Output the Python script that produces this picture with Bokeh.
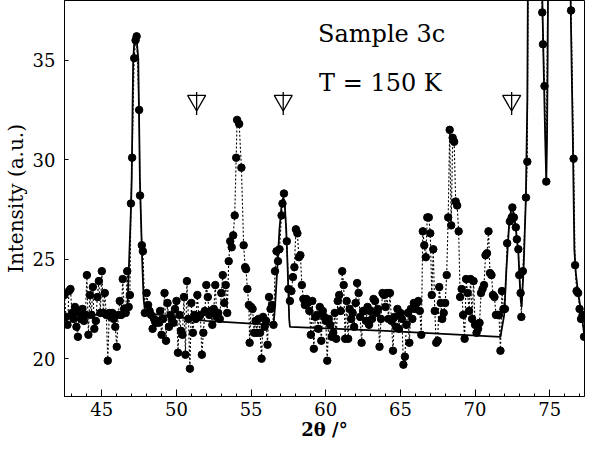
from bokeh.plotting import figure
from bokeh.models import Range1d, FixedTicker, Title
from bokeh.core.properties import value
from bokeh.embed import file_html
from bokeh.resources import INLINE
import math

# ---- measured points (2theta in degrees, intensity in a.u.) ----
two_theta = [
    42.5, 42.6, 42.7, 42.8, 42.9,
    43.0, 43.1, 43.2, 43.3, 43.4, 43.5, 43.6, 43.7, 43.8, 43.9,
    44.0, 44.1, 44.2, 44.3, 44.4, 44.5, 44.6, 44.7, 44.8, 44.9,
    45.0, 45.1, 45.2, 45.3, 45.4, 45.5, 45.6, 45.7, 45.8, 45.9,
    46.0, 46.1, 46.2, 46.3, 46.4, 46.5, 46.6, 46.7, 46.8, 46.88, 46.95,
    47.03, 47.17, 47.26, 47.33, 47.5, 47.56, 47.68, 47.75, 47.88,
    48.0, 48.1, 48.2, 48.3, 48.4, 48.5, 48.6, 48.7, 48.8, 48.9,
    49.0, 49.1, 49.2, 49.3, 49.4, 49.5, 49.6, 49.7, 49.8, 49.9,
    50.0, 50.1, 50.2, 50.3, 50.4, 50.5, 50.6, 50.7, 50.8, 50.9,
    51.0, 51.1, 51.2, 51.3, 51.4, 51.5, 51.6, 51.7, 51.8, 51.9,
    52.0, 52.1, 52.2, 52.3, 52.4, 52.5, 52.6, 52.7, 52.8, 52.9,
    53.0, 53.1, 53.2, 53.3, 53.4, 53.5, 53.6, 53.7, 53.8, 53.9,
    54.0, 54.06, 54.2, 54.35, 54.5, 54.6, 54.66, 54.75, 54.85, 54.9,
    55.0, 55.1, 55.2, 55.3, 55.4, 55.5, 55.6, 55.7, 55.8, 55.9,
    56.0, 56.1, 56.2, 56.3, 56.4, 56.5, 56.6, 56.7, 56.8, 56.9,
    57.04, 57.1, 57.2, 57.39, 57.5, 57.6, 57.7, 57.8, 57.9,
    58.0, 58.1, 58.2, 58.3, 58.4, 58.5, 58.6, 58.7, 58.8, 58.9,
    59.0, 59.1, 59.2, 59.3, 59.4, 59.5, 59.6, 59.7, 59.8, 59.9,
    60.0, 60.1, 60.2, 60.3, 60.4, 60.5, 60.6, 60.7, 60.8, 60.9,
    61.0, 61.1, 61.2, 61.3, 61.4, 61.5, 61.6, 61.7, 61.8, 61.9,
    62.0, 62.1, 62.2, 62.3, 62.4, 62.5, 62.6, 62.7, 62.8, 62.9,
    63.0, 63.1, 63.2, 63.3, 63.4, 63.5, 63.6, 63.7, 63.8, 63.9,
    64.0, 64.1, 64.2, 64.3, 64.4, 64.5, 64.6, 64.7, 64.8, 64.9,
    65.0, 65.1, 65.2, 65.3, 65.4, 65.5, 65.6, 65.7, 65.8, 65.9,
    66.0, 66.1, 66.2, 66.3, 66.4, 66.5, 66.6, 66.7, 66.8, 66.9,
    67.0, 67.1, 67.2, 67.3, 67.4, 67.5, 67.6, 67.7, 67.8, 67.9,
    68.0, 68.1, 68.2, 68.3, 68.4, 68.5, 68.6, 68.7, 68.8, 68.9,
    69.0, 69.1, 69.2, 69.3, 69.4, 69.5, 69.6, 69.7, 69.8, 69.9,
    70.0, 70.1, 70.2, 70.3, 70.4, 70.5, 70.6, 70.7, 70.8, 70.9,
    71.0, 71.1, 71.2, 71.3, 71.4, 71.5, 71.6, 71.7, 71.8, 71.9,
    72.0, 72.15, 72.33, 72.45, 72.5, 72.6, 72.73, 72.8, 72.9, 72.96,
    73.05, 73.1, 73.2, 73.41, 73.5, 73.6, 73.7, 73.8, 73.9,
    74.0, 74.1, 74.2, 74.3, 74.4, 74.5, 74.55, 74.65, 74.77, 74.9,
    75.0, 75.1, 75.2, 75.3, 75.4, 75.5, 75.6, 75.7, 75.8, 75.9,
    76.0, 76.1, 76.2, 76.3, 76.43, 76.6, 76.7, 76.8, 76.9,
    77.0, 77.1, 77.2, 77.3,
]
intensity = [
    23.2, 22.1, 21.7, 23.4, 23.5,
    22.3, 22.0, 22.6, 21.6, 21.1, 22.3, 22.0, 22.5, 21.9, 22.2,
    24.2, 21.2, 23.2, 22.2, 23.6, 21.5, 21.9, 23.1, 23.9, 22.3,
    24.4, 22.3, 23.3, 22.2, 19.9, 22.3, 22.1, 22.3, 22.0, 21.6,
    20.6, 22.2, 22.9, 22.2, 24.0, 22.5, 22.3, 24.4, 22.6, 23.2, 27.8,
    30.1, 35.1, 36.0, 36.2, 32.5, 28.2, 25.7, 25.4, 22.3,
    23.3, 22.7, 22.4, 22.2, 21.5, 22.0, 21.8, 21.9, 21.8, 22.4,
    21.2, 22.0, 23.3, 20.9, 22.8, 21.6, 22.2, 22.0, 21.8, 22.5,
    22.9, 20.3, 22.2, 21.4, 21.2, 23.1, 20.2, 23.9, 22.0, 19.5,
    22.8, 21.3, 22.2, 22.0, 23.2, 22.1, 22.2, 20.2, 21.3, 22.4,
    23.7, 23.1, 22.2, 22.4, 21.7, 22.5, 23.7, 22.1, 22.3, 22.0,
    23.3, 24.2, 22.8, 23.7, 22.3, 24.9, 25.9, 25.6, 26.2, 27.2,
    30.1, 32.0, 31.8, 29.6, 25.7, 24.6, 24.5, 23.5, 22.7, 20.8,
    22.6, 22.5, 21.3, 21.9, 21.3, 22.0, 21.3, 20.0, 22.1, 21.6,
    21.9, 20.7, 23.1, 22.5, 22.7, 21.7, 24.4, 25.4, 24.9, 25.5,
    27.2, 27.8, 28.3, 25.9, 23.5, 22.9, 23.4, 24.1, 24.6,
    26.5, 26.3, 25.1, 25.2, 23.7, 23.0, 22.7, 23.0, 22.8, 22.4,
    21.2, 22.9, 20.5, 22.1, 22.2, 21.5, 22.6, 20.9, 22.4, 22.1,
    21.9, 19.9, 22.0, 21.7, 21.1, 21.3, 22.3, 21.0, 22.9, 23.2,
    22.4, 24.4, 23.7, 21.0, 22.9, 21.0, 22.5, 22.0, 22.3, 21.6,
    22.8, 23.8, 23.3, 22.1, 20.8, 22.4, 22.4, 21.9, 22.6, 21.7,
    22.4, 22.0, 23.0, 22.9, 22.3, 22.5, 20.6, 22.0, 23.3, 23.2,
    22.6, 23.3, 22.0, 23.3, 21.9, 20.4, 22.1, 21.6, 22.5, 21.5,
    22.3, 22.0, 19.7, 20.1, 21.7, 22.3, 20.8, 22.5, 22.0, 22.8,
    22.5, 22.8, 22.9, 22.4, 21.2, 26.4, 25.7, 25.1, 27.1, 27.1,
    26.3, 23.2, 25.5, 22.4, 20.8, 20.9, 23.6, 22.8, 22.0, 22.3,
    22.8, 24.2, 27.1, 31.5, 26.7, 31.1, 30.9, 27.9, 27.7, 26.4,
    23.1, 23.5, 22.2, 21.0, 24.0, 23.3, 22.4, 24.0, 22.0, 23.9,
    21.7, 21.3, 21.5, 21.8, 23.3, 23.5, 23.7, 25.2, 25.3, 26.4,
    24.3, 24.2, 23.2, 23.1, 22.2, 22.2, 22.2, 20.4, 23.4, 22.5,
    22.5, 25.8, 26.9, 27.1, 27.6, 27.1, 26.6, 26.0, 25.5, 24.2,
    23.3, 22.1, 24.4, 28.1, 29.9, 48.0, 62.0, 70.0, 66.0,
    60.0, 55.0, 50.0, 45.0, 41.0, 37.4, 35.8, 33.7, 28.9, 42.0,
    52.0, 62.0, 68.0, 70.0, 66.0, 60.0, 55.0, 51.0, 47.0, 44.0,
    42.0, 41.0, 40.0, 39.0, 37.5, 30.05, 24.7, 23.4, 23.3,
    22.5, 22.0, 22.2, 21.1,
]

# ---- fitted profile ----
fit_x = [42.5, 46.7, 46.95, 47.0, 47.1, 47.2, 47.3, 47.44, 47.55, 47.7, 47.8, 47.9,
         52.0, 56.5, 56.6, 56.75, 56.9, 57.05, 57.15, 57.25, 57.35, 57.45, 57.55, 57.6,
         64.0, 71.7, 71.95, 72.1, 72.3, 72.45, 72.6, 72.75, 72.9, 73.05, 73.12, 73.25,
         73.4, 73.5, 73.6, 74.0, 74.45, 74.52, 74.6, 74.7, 74.77, 74.82, 74.86, 74.9,
         75.5, 76.3, 76.42, 76.55, 76.65, 76.75, 76.9, 77.1, 77.35]
fit_y = [22.2, 22.2, 27.5, 29.0, 35.0, 36.2, 36.3, 35.1, 29.0, 25.0, 23.0, 22.3,
         21.9, 21.7, 22.6, 24.5, 26.5, 27.8, 28.1, 27.8, 26.5, 24.5, 22.0, 21.6,
         21.4, 21.1, 22.2, 24.5, 27.0, 27.6, 27.3, 26.4, 25.3, 23.0, 22.6, 24.5,
         28.0, 33.0, 48.0, 70.0, 40.0, 37.5, 34.5, 31.0, 28.9, 31.0, 35.0, 40.0,
         70.0, 45.0, 37.0, 31.0, 25.5, 24.3, 23.3, 22.4, 21.0]

# ---- reflection markers ----
marker_pos = [51.35, 57.15, 72.45]

x_ticks = [45, 50, 55, 60, 65, 70, 75]
x_minor = list(range(43, 78))
y_ticks = [20, 25, 30, 35]

p = figure(width=591, height=442, output_backend="svg", toolbar_location=None,
           x_range=Range1d(42.5, 77.33), y_range=Range1d(18.1, 38.0),
           min_border_left=61, min_border_right=7, min_border_top=0,
           min_border_bottom=45, background_fill_color="white",
           border_fill_color="white")

p.xgrid.visible = False
p.ygrid.visible = False
p.outline_line_color = "black"
p.outline_line_width = 1

serif = "DejaVu Serif"
p.xaxis.ticker = FixedTicker(ticks=x_ticks, minor_ticks=x_minor)
p.yaxis.ticker = FixedTicker(ticks=y_ticks, minor_ticks=[])
for ax in (p.xaxis[0], p.yaxis[0]):
    ax.axis_line_color = "black"
    ax.major_tick_line_color = "black"
    ax.minor_tick_line_color = "black"
    ax.major_tick_out = 0
    ax.minor_tick_out = 0
    ax.major_label_text_font = serif
    ax.major_label_text_font_size = "18px"
    ax.major_label_text_color = "black"
    ax.axis_label_text_font = serif
    ax.axis_label_text_color = "black"
    ax.major_label_text_line_height = 1.0
    ax.axis_label_text_line_height = 1.0
p.xaxis.major_tick_in = 7
p.xaxis.minor_tick_in = 3
p.yaxis.major_tick_in = 4
p.yaxis.minor_tick_in = 0
p.xaxis.major_label_standoff = 5
p.yaxis.major_label_standoff = 9
p.xaxis.axis_label = "2θ /°"
p.xaxis.axis_label_text_font_style = "bold"
p.xaxis.axis_label_text_font_size = "18px"
p.xaxis.axis_label_standoff = 0

# y-axis title as a side title (placed a little above the frame centre)
p.add_layout(Title(text="Intensity (a.u.)", align="center", offset=13, standoff=3,
                   text_font=serif, text_font_size="20px", text_font_style="normal",
                   text_color="black"), "left")

# data: dotted connection, fit line, dots
p.line(two_theta, intensity, line_color="black", line_width=1.1, line_dash="2 2")
p.line(fit_x, fit_y, line_color="black", line_width=1.8)
p.scatter(two_theta, intensity, marker="circle", size=7.5, fill_color="black",
          line_color="black")

# reflection markers
p.scatter(marker_pos, [32.97] * len(marker_pos), marker="inverted_triangle", size=18,
          fill_color="white", line_color="black", line_width=1.3)
p.scatter(marker_pos, [32.83] * len(marker_pos), marker="dash", angle=math.pi / 2,
          size=23, line_color="black", line_width=1.3)

p.text(x=[59.48], y=[36.34], text=["Sample 3c"], text_font=value(serif),
       text_font_size="24px", text_baseline="alphabetic", text_color="black")
p.text(x=[59.55], y=[33.87], text=["T = 150 K"], text_font=value(serif),
       text_font_size="24px", text_baseline="alphabetic", text_color="black")

open("out.html", "w").write(file_html(p, INLINE))
